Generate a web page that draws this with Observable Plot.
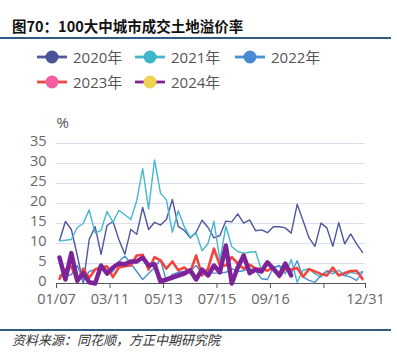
<!DOCTYPE html>
<html>
<head>
<meta charset="utf-8">
<script src="https://cdn.jsdelivr.net/npm/d3@7"></script>
<script src="https://cdn.jsdelivr.net/npm/@observablehq/plot@0.6"></script>
<style>
  html, body { margin: 0; padding: 0; background: #fff; }
  #wrap { position: relative; width: 397px; height: 361px; overflow: hidden; background: #fff; }
  .title { position: absolute; left: 12px; top: 18px; font: bold 14.5px "Noto Sans CJK SC", sans-serif; line-height: 16px; color: #111; white-space: nowrap; }
  .rule { position: absolute; left: 0; width: 391px; height: 1.5px; background: #2f5b85; }
  .leg { position: absolute; display: flex; align-items: center; font: 15px "Open Sans", "Noto Sans CJK SC", sans-serif; color: #555; line-height: 18px; white-space: nowrap; }
  .leg svg { margin-right: 6px; }
  .src { position: absolute; left: 12px; top: 332px; font: italic 13px "Noto Sans CJK SC", sans-serif; color: #333; line-height: 16px; white-space: nowrap; }
  #chart { position: absolute; left: 0; top: 100px; }
</style>
</head>
<body>
<div id="wrap">
  <div class="title">图70：100大中城市成交土地溢价率</div>
  <div class="rule" style="top:37px"></div>
  <div id="legend"></div>
  <div id="chart"></div>
  <div class="rule" style="top:329px"></div>
  <div class="src">资料来源：同花顺，方正中期研究院</div>
</div>
<script>
const seriesNames = ["2020年", "2021年", "2022年", "2023年", "2024年"];
const tickPos = [0, 9, 18, 27, 36, 45, 52];
const tickLabels = ["01/07", "03/11", "05/13", "07/15", "09/16", "", "12/31"];
const yTicks = [0, 5, 10, 15, 20, 25, 30, 35];

const v2020 = [10.7, 15.5, 13.5, 7, 0, 11, 14.2, 7.3, 14.5, 15.5, 11, 7.3, 13.5, 12.3, 19, 13.5, 15.3, 14.6, 16, 21,
  14.2, 13.3, 11.4, 12.8, 15.8, 14, 11.4, 12, 15.6, 15.4, 17.4, 15.1, 15.9, 13.2, 13.4, 12.7, 14.2, 14.2, 13.9, 12.6,
  19.8, 15.7, 11.4, 9.3, 15.1, 13.9, 9.3, 15.2, 9.9, 12.4, 9.9, 7.8];
const v2021 = [10.7, 10.8, 11, 14, 15, 18.4, 12.6, 13.3, 18, 15.3, 18.3, 17.2, 16, 20.7, 28.7, 18.6, 30.9, 22.6, 20.9, 12.8,
  18.2, 14.2, 11.6, 12.6, 8.2, 10, 15.6, 5.8, 14.3, 9.2, 8, 7.6, 7.8, 8, 3.3, 3.3, 4, 4.3, 2.4, 6,
  0.3, 3.3, 3.7, 2.4, 1.6, 3, 2.4, 3.3, 2, 2.8, 2.4, 3];
const v2022 = [2, 2, 2.2, 4.5, 0.5, 3, 3.5, 4.5, 2, 3, 5.5, 6.8, 5, 3, 1, 2.5, 4, 6, 0.5, 2.3,
  2.8, 3, 3.2, 4.5, 2.4, 2.8, 2.6, 2.6, 2.8, 3.7, 3, 3.2, 3.7, 3.2, 1.2, 1, 4, 4.5, 3.4, 2.5,
  5.7, 1.6, 0.8, 0.3, 2, 3.2, 3, 2.4, 2, 1.6, 0.8, 2.8];
const v2023 = [1.2, 3.5, 4.3, 0.3, 3.7, 1.4, 3.5, 4, 4.3, 1.6, 4, 4.3, 4.5, 7, 7.2, 3.5, 6.6, 5.8, 3.7, 5.5,
  3.3, 4, 2.8, 7, 2, 3.7, 8.7, 4.5, 4.5, 6.6, 5, 3.7, 4.7, 3.7, 3.7, 3.2, 4, 1.6, 3.7, 3.5,
  3.9, 1.7, 3.6, 3, 2.4, 2, 4, 2, 2.6, 3.1, 3.2, 1.1];
const v2024 = [6.5, 1, 7.6, 0.7, 2.6, 0.3, 0, 4.5, 2.5, 4, 5, 4.8, 5.5, 5.5, 6.5, 4.5, 4.8, 0.5, 1, 1.5,
  2, 2.5, 3.3, 1, 3.5, 2, 4.5, 2.8, 9.5, 0, 4, 7, 2.6, 3.5, 3, 5.3, 3.7, 2, 5, 2];

const lineColors = ["#4f569d", "#45b8cf", "#4a8ed6", "#f2453d", "#7d2399"];
const dotColors = ["#4a5396", "#3fb5cc", "#4a8ad2", "#f45ea0", "#f0d24e"];
const widths = [1.4, 1.4, 1.4, 2.6, 4.5];

const allValues = [v2020, v2021, v2022, v2023, v2024];
const rows = [];
allValues.forEach((arr, s) => arr.forEach((v, i) => rows.push({series: seriesNames[s], week: i + 0.5, value: v})));

// legend
const legendPos = [[37, 48], [135, 48], [235, 48], [37, 73], [135, 73]];
const legend = document.getElementById("legend");
seriesNames.forEach((name, s) => {
  const d = document.createElement("div");
  d.className = "leg";
  d.style.left = legendPos[s][0] + "px";
  d.style.top = legendPos[s][1] + "px";
  d.innerHTML = `<svg width="30" height="16"><line x1="0" x2="30" y1="8" y2="8" stroke="${lineColors[s]}" stroke-width="2.8"/><circle cx="15" cy="8" r="6.5" fill="${dotColors[s]}"/></svg><span>${name}</span>`;
  legend.appendChild(d);
});

const marks = [
  Plot.ruleY(yTicks.filter(d => d > 0), {stroke: "#dcdff0", strokeWidth: 1}),
  Plot.axisY({ticks: yTicks, tickSize: 0, tickPadding: 10, label: null, fontSize: 14.5, dy: -2}),
  Plot.axisX({ticks: tickPos, tickFormat: d => tickLabels[tickPos.indexOf(d)], tickSize: 5, tickPadding: 5, label: null, stroke: "#555", fontSize: 14.5}),
  Plot.ruleY([0], {stroke: "#555", strokeWidth: 1}),
  Plot.text(["%"], {frameAnchor: "top-left", dy: -26, fontSize: 15, fill: "#555"})
];
seriesNames.forEach((name, s) => {
  marks.push(Plot.line(rows.filter(r => r.series === name), {x: "week", y: "value", stroke: lineColors[s], strokeWidth: widths[s], strokeLinejoin: "round"}));
});

const chart = Plot.plot({
  width: 397,
  height: 215,
  marginLeft: 56,
  marginRight: 32,
  marginTop: 43,
  marginBottom: 32,
  x: {domain: [0, 52]},
  y: {domain: [0, 35]},
  style: {fontFamily: "'Open Sans', sans-serif", fontSize: "15px", color: "#666", background: "transparent"},
  marks
});
document.getElementById("chart").appendChild(chart);
</script>
</body>
</html>
